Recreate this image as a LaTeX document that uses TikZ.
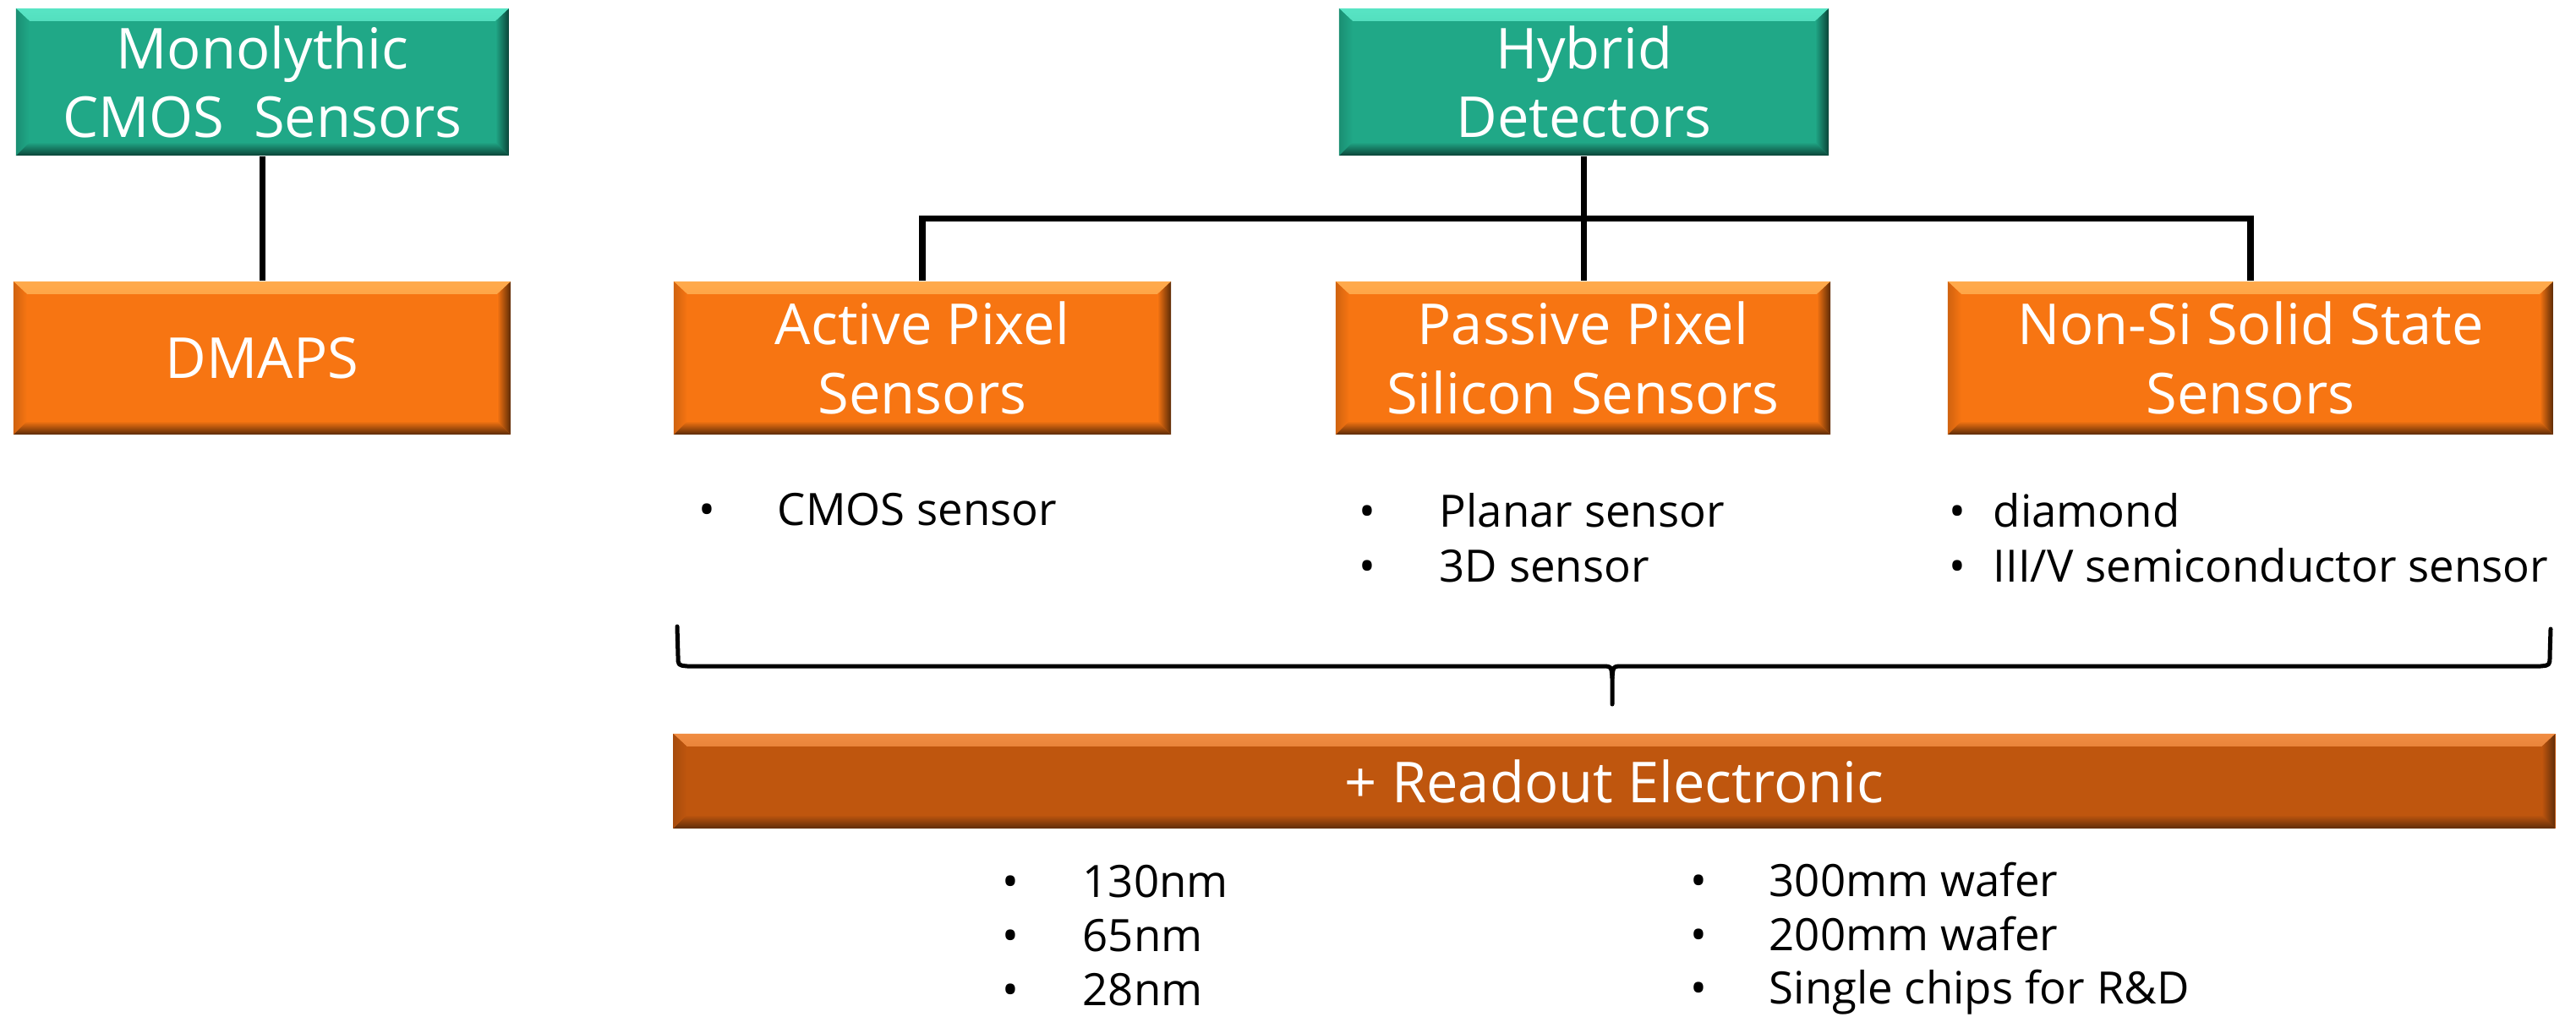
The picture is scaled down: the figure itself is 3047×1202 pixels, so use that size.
\documentclass[tikz,border=0pt]{standalone}
\usepackage{fontspec}
\setmainfont{Open Sans}
\usetikzlibrary{calc}
\definecolor{tealbase}{HTML}{20A887}
\definecolor{teallight}{HTML}{58E4C4}
\definecolor{tealdark}{HTML}{0B4337}
\definecolor{orgbase}{HTML}{F77512}
\definecolor{orglight}{HTML}{FFAA4C}
\definecolor{orgdark}{HTML}{5A2A06}
\definecolor{rdobase}{HTML}{BF560E}
\definecolor{rdolight}{HTML}{F08C42}
\definecolor{rdodark}{HTML}{5E2C0A}
\tikzset{
  bevelbox/.style n args={3}{rectangle, inner sep=0pt, draw=none, fill=#1, text=white,
    font=\fontsize{19}{23.2}\selectfont, align=center,
    path picture={
      \shade[top color=#2, bottom color=#1]
        (path picture bounding box.north west) -- (path picture bounding box.north east)
        -- ([shift={(-0.16cm,-0.15cm)}]path picture bounding box.north east)
        -- ([shift={(0.16cm,-0.15cm)}]path picture bounding box.north west) -- cycle;
      \shade[top color=#1, bottom color=#3]
        (path picture bounding box.south west) -- (path picture bounding box.south east)
        -- ([shift={(-0.16cm,0.16cm)}]path picture bounding box.south east)
        -- ([shift={(0.16cm,0.16cm)}]path picture bounding box.south west) -- cycle;
      \shade[left color=#1!75!#3, right color=#1]
        (path picture bounding box.north west)
        -- ([shift={(0.16cm,-0.15cm)}]path picture bounding box.north west)
        -- ([shift={(0.16cm,0.16cm)}]path picture bounding box.south west)
        -- (path picture bounding box.south west) -- cycle;
      \shade[left color=#1, right color=#3]
        (path picture bounding box.north east)
        -- ([shift={(-0.16cm,-0.15cm)}]path picture bounding box.north east)
        -- ([shift={(-0.16cm,0.16cm)}]path picture bounding box.south east)
        -- (path picture bounding box.south east) -- cycle;
    }},
  tealbox/.style={bevelbox={tealbase}{teallight}{tealdark}},
  orgbox/.style={bevelbox={orgbase}{orglight}{orgdark}},
  rdobox/.style={bevelbox={rdobase}{rdolight}{rdodark}},
  conn/.style={line width=0.075cm, black, line join=miter},
  bracepath/.style={line width=0.05cm, black, line cap=round, line join=round},
  item/.style={inner sep=0pt, anchor=base west, font=\fontsize{15}{18}\selectfont, text=black},
}
\begin{document}
\begin{tikzpicture}[x=0.01cm, y=-0.01cm]
\useasboundingbox (0,0) rectangle (3047,1202);
% top row
\node[tealbox, minimum width=5.83cm, minimum height=1.74cm] (mono) at (310.5,97) {Monolythic\\CMOS\ \ Sensors};
\node[tealbox, minimum width=5.79cm, minimum height=1.74cm] (hyb) at (1873.5,97) {Hybrid\\Detectors};
% second row
\node[orgbox, minimum width=5.88cm, minimum height=1.81cm] (dmaps) at (310,423.5) {DMAPS};
\node[orgbox, minimum width=5.88cm, minimum height=1.81cm] (act) at (1091,423.5) {Active Pixel\\Sensors};
\node[orgbox, minimum width=5.85cm, minimum height=1.81cm] (pas) at (1872.5,423.5) {Passive Pixel\\Silicon Sensors};
\node[orgbox, minimum width=7.16cm, minimum height=1.81cm] (non) at (2662,423.5) {Non-Si Solid State\\Sensors};
% readout bar
\node[rdobox, minimum width=22.25cm, minimum height=1.12cm] (rdo) at (1909.5,924) {+ Readout Electronic};
% connectors
\draw[conn] (mono.south) -- (mono.south |- dmaps.north);
\draw[conn] (hyb.south) -- (hyb.south |- pas.north);
\coordinate (bus) at ($(hyb.south)!0.5!(pas.north)$);
\draw[conn] (act.north) |- (bus) -| (non.north);
% brace
\draw[bracepath] (801,741) -- (802,776) .. controls (802,787) .. (813,788) -- (1894,788) .. controls (1906,788) .. (1907,802) -- (1907,833);
\draw[bracepath] (3017,744) -- (3016,776) .. controls (3016,787) .. (3005,788) -- (1920,788) .. controls (1908,788) .. (1907,802);
% lists
\node[item] (i1) at (826,621) {\makebox[0.93cm][l]{•}CMOS sensor};
\node[item] (i2) at (1607,623) {\makebox[0.95cm][l]{•}Planar sensor};
\node[item] (i3) at (1607,688) {\makebox[0.95cm][l]{•}3D sensor};
\node[item] (i4) at (2305,623) {\makebox[0.52cm][l]{•}diamond};
\node[item] (i5) at (2305,688) {\makebox[0.52cm][l]{•}III/V semiconductor sensor};
\node[item] (r1) at (1185,1061) {\makebox[0.95cm][l]{•}130nm};
\node[item] (r2) at (1185,1125) {\makebox[0.95cm][l]{•}65nm};
\node[item] (r3) at (1185,1189) {\makebox[0.95cm][l]{•}28nm};
\node[item] (w1) at (1999,1060) {\makebox[0.93cm][l]{•}300mm wafer};
\node[item] (w2) at (1999,1124) {\makebox[0.93cm][l]{•}200mm wafer};
\node[item] (w3) at (1999,1187) {\makebox[0.93cm][l]{•}Single chips for R\&D};
\end{tikzpicture}
\end{document}
